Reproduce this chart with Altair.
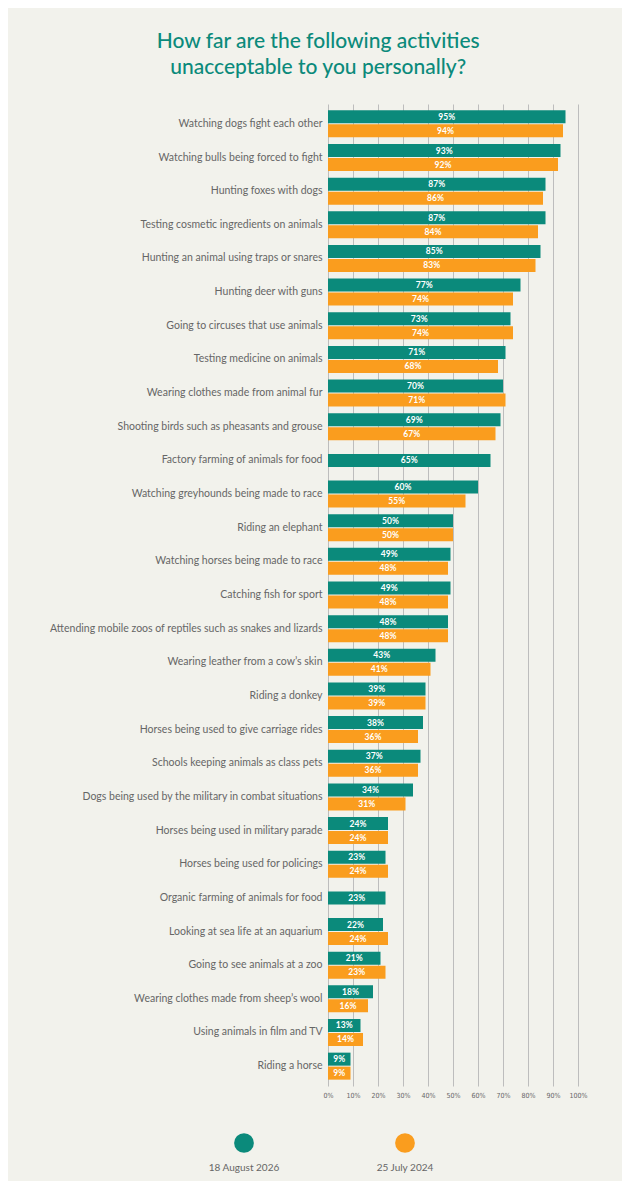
import altair as alt
import pandas as pd

categories = [
    "Watching dogs fight each other",
    "Watching bulls being forced to fight",
    "Hunting foxes with dogs",
    "Testing cosmetic ingredients on animals",
    "Hunting an animal using traps or snares",
    "Hunting deer with guns",
    "Going to circuses that use animals",
    "Testing medicine on animals",
    "Wearing clothes made from animal fur",
    "Shooting birds such as pheasants and grouse",
    "Factory farming of animals for food",
    "Watching greyhounds being made to race",
    "Riding an elephant",
    "Watching horses being made to race",
    "Catching fish for sport",
    "Attending mobile zoos of reptiles such as snakes and lizards",
    "Wearing leather from a cow\u2019s skin",
    "Riding a donkey",
    "Horses being used to give carriage rides",
    "Schools keeping animals as class pets",
    "Dogs being used by the military in combat situations",
    "Horses being used in military parade",
    "Horses being used for policings",
    "Organic farming of animals for food",
    "Looking at sea life at an aquarium",
    "Going to see animals at a zoo",
    "Wearing clothes made from sheep\u2019s wool",
    "Using animals in film and TV",
    "Riding a horse",
]
values_2026 = [95, 93, 87, 87, 85, 77, 73, 71, 70, 69, 65, 60, 50, 49, 49, 48, 43, 39, 38, 37, 34, 24, 23, 23, 22, 21, 18, 13, 9]
values_2024 = [94, 92, 86, 84, 83, 74, 74, 68, 71, 67, None, 55, 50, 48, 48, 48, 41, 39, 36, 36, 31, 24, 24, None, 24, 23, 16, 14, 9]
series_names = ["18 August 2026", "25 July 2024"]
series_colors = ["#0b8a7b", "#fa9d1e"]
tick_values = [0, 10, 20, 30, 40, 50, 60, 70, 80, 90, 100]
title_lines = ["How far are the following activities", "unacceptable to you personally?"]

rows = []
for c, a, b in zip(categories, values_2026, values_2024):
    rows.append({"category": c, "series": series_names[0], "value": a})
    if b is not None:
        rows.append({"category": c, "series": series_names[1], "value": b})
df = pd.DataFrame(rows)

TEAL = series_colors[0]
GRAY = "#666666"
FONT = "Lato"

base = alt.Chart(df).transform_joinaggregate(
    n="count()", groupby=["category"]
).transform_calculate(
    mid="datum.value / 2", label="datum.value + '%'"
)

y_enc = alt.Y(
    "category:N",
    sort=categories,
    scale=alt.Scale(paddingInner=0, paddingOuter=0.09),
    axis=alt.Axis(
        title=None, domain=False, ticks=False, labelPadding=6, labelLimit=400,
        labelFontSize=10.5, labelColor=GRAY, labelFont=FONT,
    ),
)
x_axis = alt.Axis(
    title=None, values=tick_values, labelExpr="datum.value + '%'",
    grid=True, gridColor="#bdbdbd", gridWidth=1, domain=False, ticks=False,
    labelFontSize=7, labelColor=GRAY, labelFont="DejaVu Sans Condensed", labelPadding=5,
    labelOverlap=False, labelFlush=False,
)
x_scale = alt.Scale(domain=[0, 100])
x_enc = alt.X("value:Q", scale=x_scale, axis=x_axis)
x_mid = alt.X("mid:Q", scale=x_scale, axis=x_axis)
color_enc = alt.Color(
    "series:N", scale=alt.Scale(domain=series_names, range=series_colors), legend=None
)

def layer(filter_expr, off):
    sub = base.transform_filter(filter_expr)
    bars = sub.mark_bar(size=13, yOffset=off).encode(y=y_enc, x=x_enc, color=color_enc)
    txt = sub.mark_text(
        yOffset=off, color="white", fontSize=8.5, fontWeight="bold", font=FONT, baseline="middle"
    ).encode(y=y_enc, x=x_mid, text="label:N")
    return bars + txt

l1 = layer(f"datum.series == '{series_names[0]}' && datum.n == 2", -7)
l2 = layer(f"datum.series == '{series_names[1]}'", 7)
l3 = layer("datum.n == 1", 0)

main = alt.layer(l1, l2, l3).properties(width=250, height=982)

leg_df = pd.DataFrame({"series": series_names})
leg_x = alt.X("series:N", sort=series_names, scale=alt.Scale(range=[-84, 77], padding=0), axis=None)
leg_base = alt.Chart(leg_df)
leg = (
    leg_base.mark_circle(size=390, opacity=1).encode(x=leg_x, color=color_enc)
    + leg_base.mark_text(dy=25, fontSize=10, color=GRAY, font=FONT).encode(x=leg_x, text="series:N")
).properties(width=250, height=48)

chart = alt.vconcat(main, leg, spacing=21).properties(
    title=alt.TitleParams(
        title_lines, fontSize=21, color=TEAL, font=FONT, fontWeight=500,
        lineHeight=26, anchor="middle", offset=26,
    ),
    padding={"left": 41, "right": 34, "top": 23, "bottom": 8},
    background="#f2f2ec",
).configure_view(stroke=None)

chart.save("out.html", embed_options={"renderer": "svg", "actions": False})
